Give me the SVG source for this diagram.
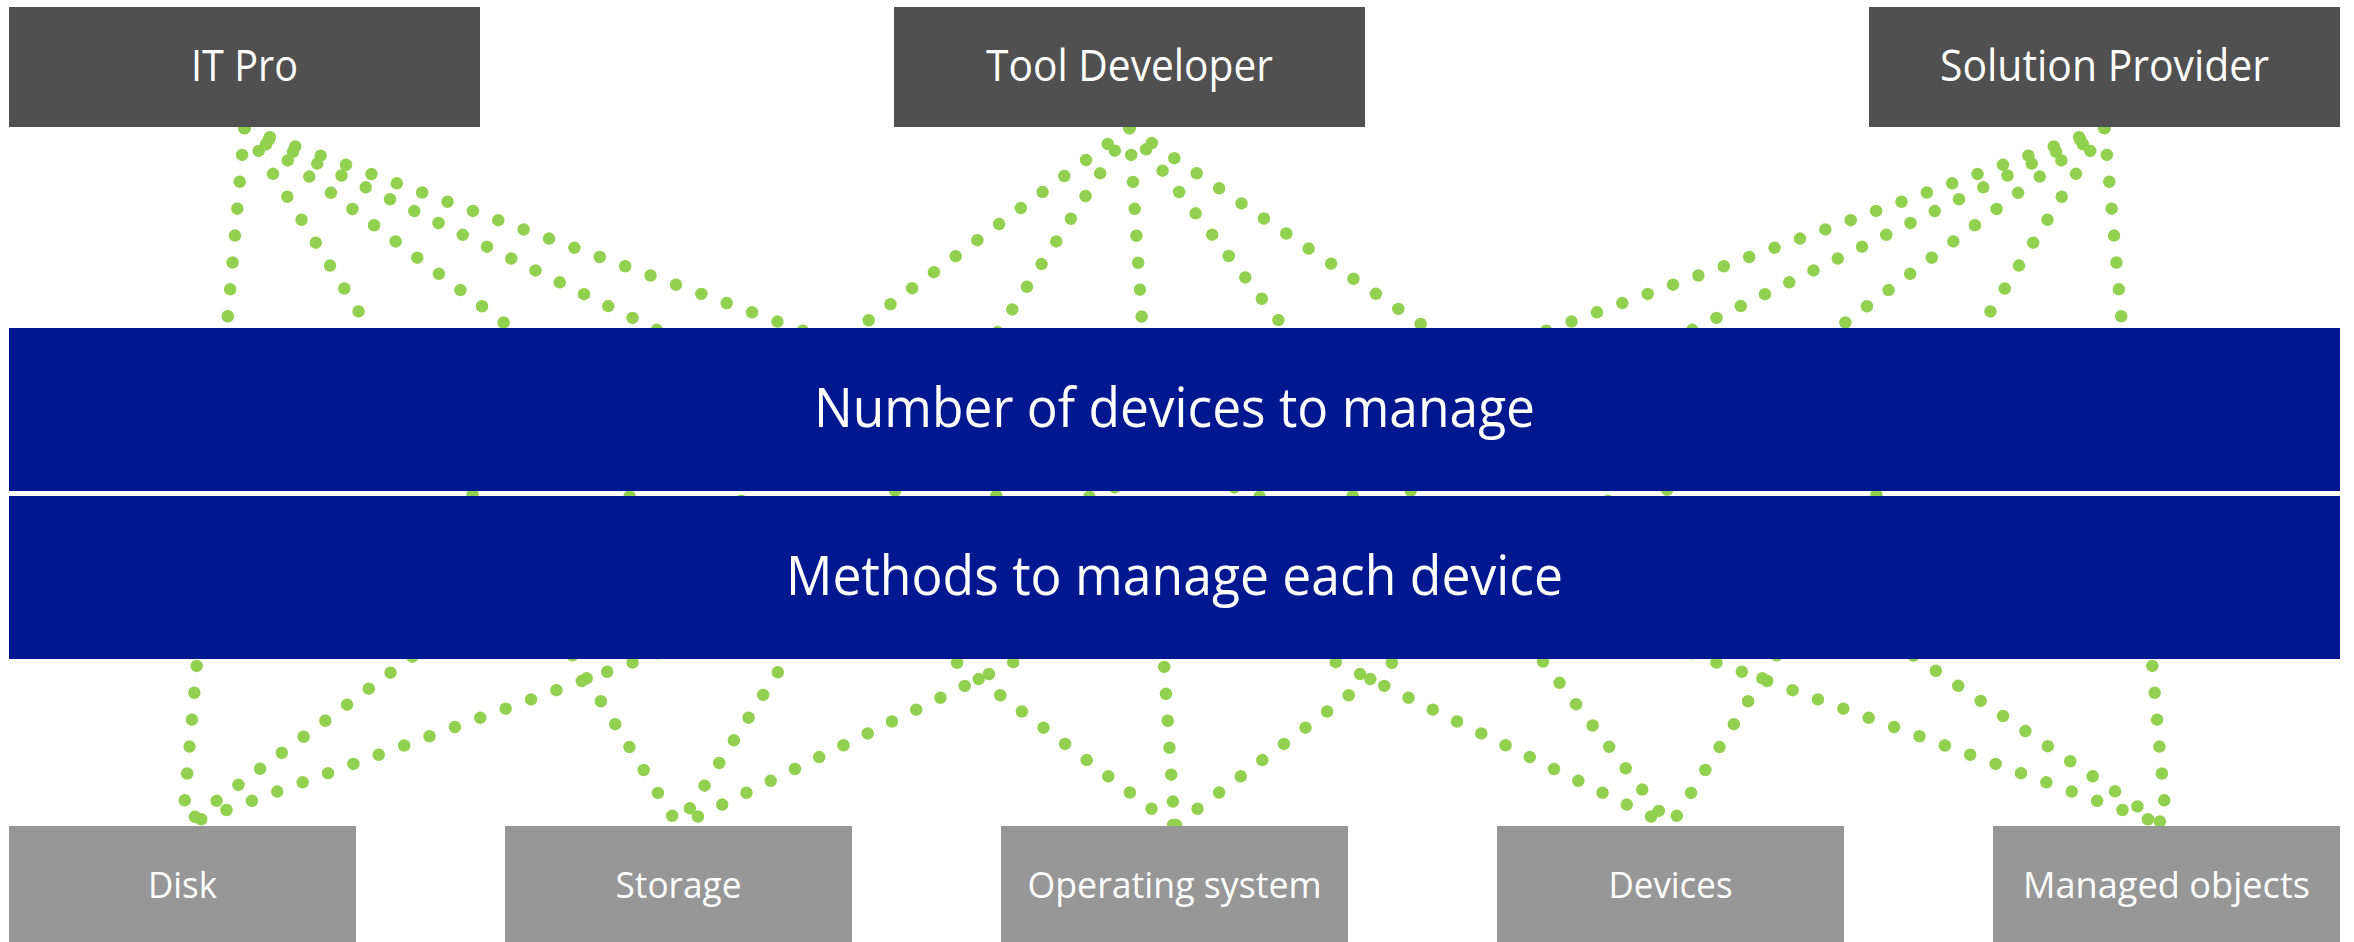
<svg xmlns="http://www.w3.org/2000/svg" width="2354" height="942" viewBox="0 0 2354 942">
<style>
.bg{fill:#ffffff}
.top{fill:#505050}
.bot{fill:#979797}
.band{fill:#00188F}
.lbl{fill:#ffffff;font-family:"Open Sans","Noto Sans","Liberation Sans",sans-serif;text-anchor:middle;lengthAdjust:spacingAndGlyphs}
.t1{font-size:43px}
.t2{font-size:54px}
.t3{font-size:37px}
.conn line{stroke:#92D050;stroke-width:12.5;stroke-linecap:round;stroke-dasharray:0 27;fill:none}
</style>
<rect class="bg" x="0" y="0" width="2354" height="942"/>
<g id="connectors" class="conn">
<line x1="244.5" y1="128" x2="182.5" y2="826"/>
<line x1="244.5" y1="128" x2="678.5" y2="826"/>
<line x1="244.5" y1="128" x2="1174.5" y2="826"/>
<line x1="244.5" y1="128" x2="1670.5" y2="826"/>
<line x1="244.5" y1="128" x2="2166.5" y2="826"/>
<line x1="1129.5" y1="128" x2="182.5" y2="826"/>
<line x1="1129.5" y1="128" x2="678.5" y2="826"/>
<line x1="1129.5" y1="128" x2="1174.5" y2="826"/>
<line x1="1129.5" y1="128" x2="1670.5" y2="826"/>
<line x1="1129.5" y1="128" x2="2166.5" y2="826"/>
<line x1="2104.5" y1="128" x2="182.5" y2="826"/>
<line x1="2104.5" y1="128" x2="678.5" y2="826"/>
<line x1="2104.5" y1="128" x2="1174.5" y2="826"/>
<line x1="2104.5" y1="128" x2="1670.5" y2="826"/>
<line x1="2104.5" y1="128" x2="2166.5" y2="826"/>
</g>
<g id="band-number">
<rect class="band" x="9" y="328" width="2331" height="163"/>
<text class="lbl t2" x="1174.5" y="427" textLength="721" lengthAdjust="spacingAndGlyphs">Number of devices to manage</text>
</g>
<g id="band-methods">
<rect class="band" x="9" y="496" width="2331" height="163"/>
<text class="lbl t2" x="1174.5" y="595" textLength="777" lengthAdjust="spacingAndGlyphs">Methods to manage each device</text>
</g>
<g id="it-pro">
<rect class="top" x="9" y="7" width="471" height="120"/>
<text class="lbl t1" x="244.5" y="81" textLength="107" lengthAdjust="spacingAndGlyphs">IT Pro</text>
</g>
<g id="tool-developer">
<rect class="top" x="894" y="7" width="471" height="120"/>
<text class="lbl t1" x="1129.5" y="81" textLength="287" lengthAdjust="spacingAndGlyphs">Tool Developer</text>
</g>
<g id="solution-provider">
<rect class="top" x="1869" y="7" width="471" height="120"/>
<text class="lbl t1" x="2104.5" y="81" textLength="329" lengthAdjust="spacingAndGlyphs">Solution Provider</text>
</g>
<g id="disk">
<rect class="bot" x="9" y="826" width="347" height="120"/>
<text class="lbl t3" x="182.5" y="898" textLength="69" lengthAdjust="spacingAndGlyphs">Disk</text>
</g>
<g id="storage">
<rect class="bot" x="505" y="826" width="347" height="120"/>
<text class="lbl t3" x="678.5" y="898" textLength="126" lengthAdjust="spacingAndGlyphs">Storage</text>
</g>
<g id="operating-system">
<rect class="bot" x="1001" y="826" width="347" height="120"/>
<text class="lbl t3" x="1174.5" y="898" textLength="294" lengthAdjust="spacingAndGlyphs">Operating system</text>
</g>
<g id="devices">
<rect class="bot" x="1497" y="826" width="347" height="120"/>
<text class="lbl t3" x="1670.5" y="898" textLength="124" lengthAdjust="spacingAndGlyphs">Devices</text>
</g>
<g id="managed-objects">
<rect class="bot" x="1993" y="826" width="347" height="120"/>
<text class="lbl t3" x="2166.5" y="898" textLength="287" lengthAdjust="spacingAndGlyphs">Managed objects</text>
</g>
</svg>
